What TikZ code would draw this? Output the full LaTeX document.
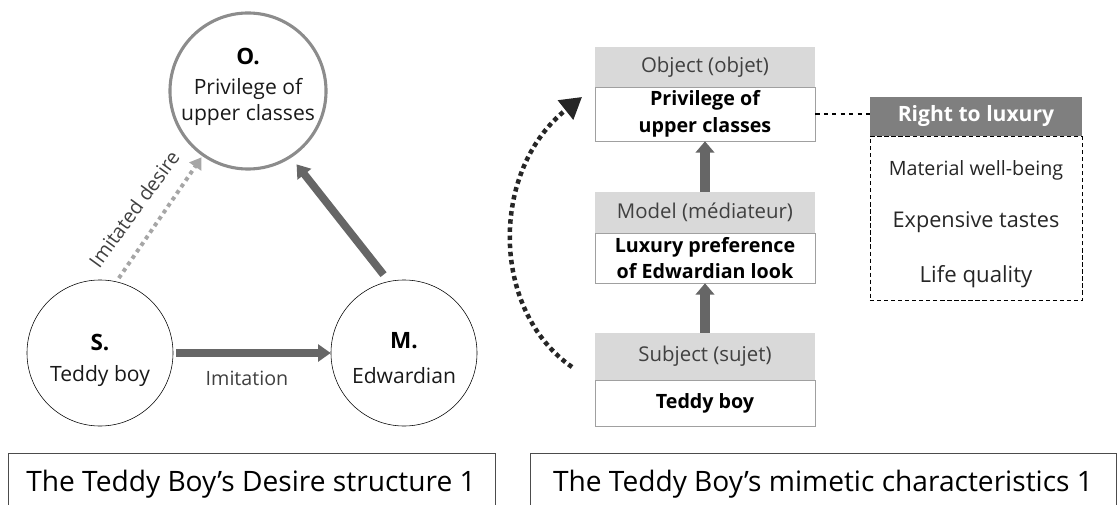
\documentclass[tikz,border=0pt]{standalone}
\usepackage{fontspec}
\setmainfont{Open Sans}
\usetikzlibrary{arrows.meta}

\definecolor{arrowgray}{HTML}{666666}
\definecolor{ringgray}{HTML}{8C8C8C}
\definecolor{dotgray}{HTML}{A6A6A6}
\definecolor{headgray}{HTML}{D9D9D9}
\definecolor{luxgray}{HTML}{7F7F7F}
\definecolor{framegray}{HTML}{A0A0A0}

\tikzset{
  person/.style={circle, draw, thin, minimum size=3.65cm, inner sep=0pt},
  goal/.style={circle, draw=ringgray, line width=2.2pt, minimum size=3.9cm, inner sep=0pt},
  circletext/.style={align=center, font=\fontsize{15}{19}\selectfont, text=black!90},
  circleletter/.style={font=\bfseries\fontsize{16}{19}\selectfont},
  fatarrow/.style={arrowgray, line width=5.5pt, -{Triangle[length=9pt, width=12pt]}},
  headbox/.style={fill=headgray, minimum width=5.5cm, inner sep=0pt,
    font=\fontsize{14.5}{18}\selectfont, text=black!75},
  bodybox/.style={draw=framegray, fill=white, minimum width=5.5cm, inner sep=0pt, align=center,
    font=\bfseries\fontsize{14}{19}\selectfont},
  titlebox/.style={font=\fontsize{20}{22}\selectfont},
}

\begin{document}
\begin{tikzpicture}[x=0.025cm, y=-0.025cm]
      \useasboundingbox (0,0) rectangle (1118,505);

      % left: desire triangle
      \node[goal] (O) at (248,91) {};
      \node[circleletter] (Oletter) at (248,56) {O.};
      \node[circletext] (Oname) at (248,102) {Privilege of\\upper classes};
      \node[person] (S) at (100,353) {};
      \node[circleletter] (Sletter) at (100,343) {S.};
      \node[circletext] (Sname) at (100,376) {Teddy boy};
      \node[person] (M) at (404,353) {};
      \node[circleletter] (Mletter) at (404,341) {M.};
      \node[circletext] (Mname) at (404,376) {Edwardian};

      \draw[fatarrow, shorten <=2pt] (S) -- (M);
      \node[font=\fontsize{14}{17}\selectfont, text=black!75] (imitlabel) at (247,378) {Imitation};
      \draw[fatarrow, shorten <=6pt, shorten >=6pt] (M.102) -- (O.-57);
      \draw[dotgray, line width=2.8pt, dash pattern=on 2.8pt off 2.8pt,
        -{Triangle[length=8pt, width=10pt]}, shorten <=3pt, shorten >=1pt] (S.77) -- (O.235);
      \node[rotate=54, font=\fontsize{14}{17}\selectfont, text=black!75] (desirelabel) at (134,209) {Imitated desire};

      % right: mimetic chain
      \node[headbox, minimum height=1cm] (objhead) at (705,67) {Object (objet)};
      \node[bodybox, minimum height=1.35cm] (objbody) at (705,114) {Privilege of\\upper classes};
      \node[headbox, minimum height=1.025cm] (modhead) at (705,212.5) {Model (médiateur)};
      \node[bodybox, minimum height=1.25cm] (modbody) at (705,258) {Luxury preference\\of Edwardian look};
      \node[headbox, minimum height=1.175cm] (subhead) at (705,356.5) {Subject (sujet)};
      \node[bodybox, minimum height=1.15cm] (subbody) at (705,403) {Teddy boy};

      \draw[fatarrow, line width=6.5pt, -{Triangle[length=8pt, width=13pt]}] (modhead.north) -- (objbody.south);
      \draw[fatarrow, line width=6.5pt, -{Triangle[length=8pt, width=13pt]}] (subhead.north) -- (modbody.south);

      \coordinate (loopstart) at (572,367);
      \coordinate (loopend) at (582,97);
      \draw[black!85, line width=3.2pt, dash pattern=on 3.2pt off 2.6pt,
        -{Triangle[length=15pt, width=17pt]}] (loopstart) .. controls (490,310) and (490,170) .. (loopend);

      % right to luxury
      \node[fill=luxgray, minimum width=5.3cm, minimum height=0.975cm, inner sep=0pt, text=white,
        font=\bfseries\fontsize{15}{19}\selectfont] (luxhead) at (976,116.5) {Right to luxury};
      \node[draw, densely dashed, thin, minimum width=5.3cm, minimum height=4.1cm, inner sep=0pt,
        anchor=north] (luxbox) at (luxhead.south) {};
      \node[font=\fontsize{14}{17}\selectfont, text=black!85] (luxone) at (976,170) {Material well-being};
      \node[font=\fontsize{15.4}{19}\selectfont, text=black!85] (luxtwo) at (976,222) {Expensive tastes};
      \node[font=\fontsize{15.8}{19}\selectfont, text=black!85] (luxthree) at (976,277) {Life quality};
      \draw[thick, dashed] (objbody.east) -- (objbody.east -| luxhead.west);

      % captions
      \node[draw=black!70, thick, minimum width=12.175cm, minimum height=2cm, anchor=north west] (leftcap) at (8,453) {};
      \node[titlebox] (lefttitle) at (251,484) {The Teddy Boy’s Desire structure 1};
      \node[draw=black!70, thick, minimum width=14.65cm, minimum height=2cm, anchor=north west] (rightcap) at (530,453) {};
      \node[titlebox] (righttitle) at (823,484) {The Teddy Boy’s mimetic characteristics 1};
\end{tikzpicture}
\end{document}
